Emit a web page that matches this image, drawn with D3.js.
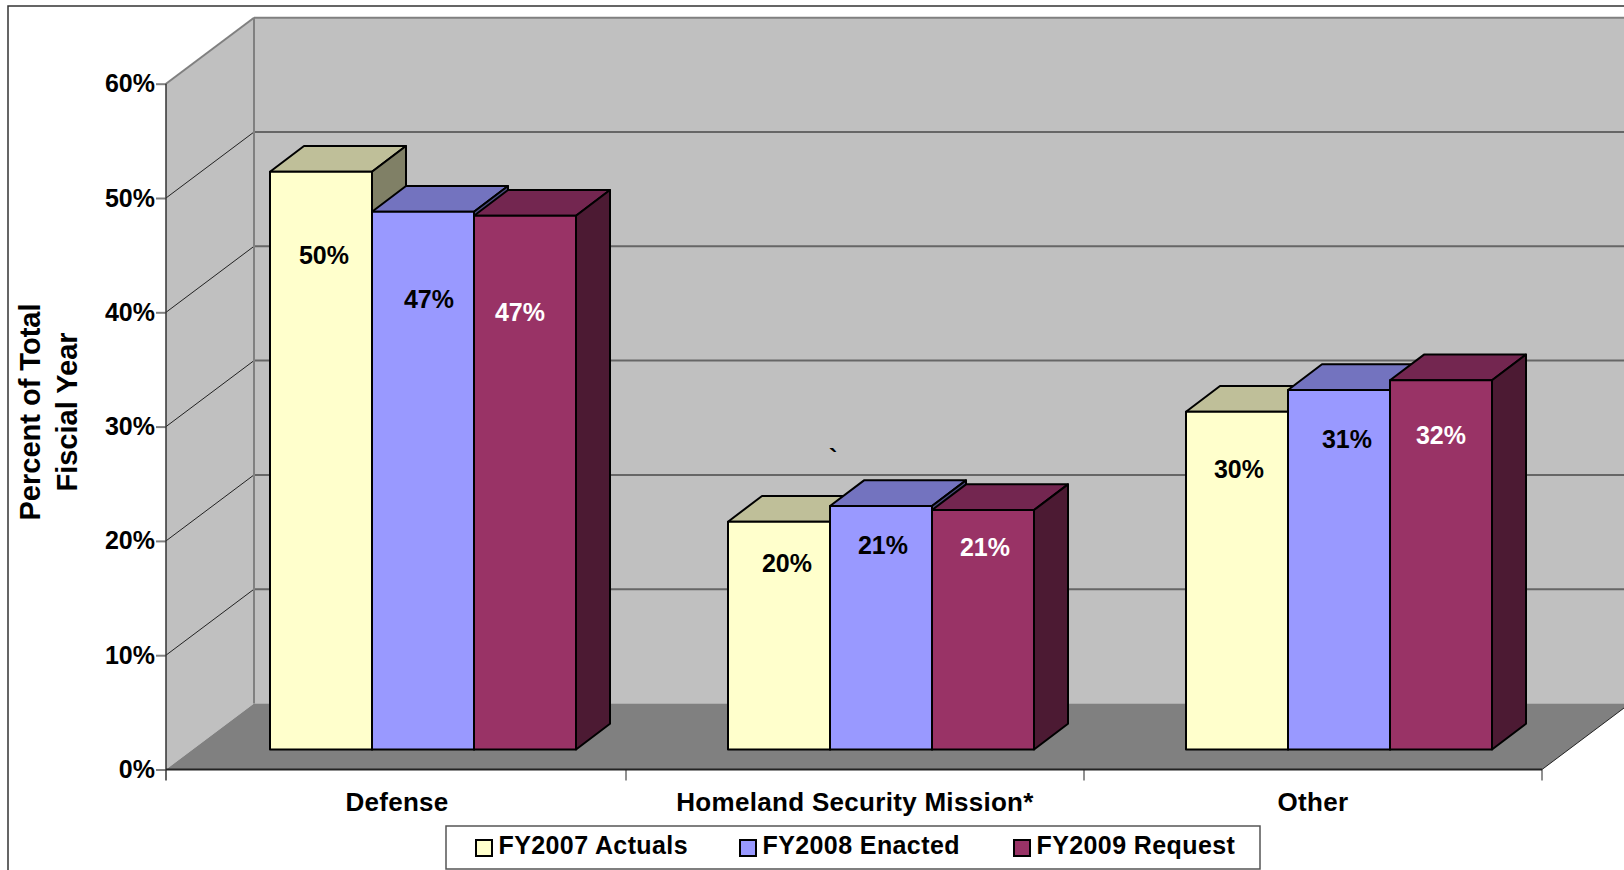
<!DOCTYPE html>
<html>
<head>
<meta charset="utf-8">
<script src="https://cdn.jsdelivr.net/npm/d3@7"></script>
<style>
    body { margin: 0; background: #fff; overflow: hidden; }
    text { font-family: "Liberation Sans", Arial, sans-serif; font-weight: bold; font-size: 25px; fill: #000; }
    #x-axis text { font-size: 26px; letter-spacing: 0.3px; }
    .legend text { letter-spacing: 0.4px; }
    .y-title text { font-size: 29px; }
</style>
</head>
<body>
<div id="chart"></div>
<script>
const categories = ["Defense", "Homeland Security Mission*", "Other"];
const seriesNames = ["FY2007 Actuals", "FY2008 Enacted", "FY2009 Request"];
const fy2007 = [50.55, 19.93, 29.55];
const fy2008 = [47.05, 21.3, 31.45];
const fy2009 = [46.7, 20.95, 32.3];
const fy2007Labels = ["50%", "20%", "30%"];
const fy2008Labels = ["47%", "21%", "31%"];
const fy2009Labels = ["47%", "21%", "32%"];
const yTicks = [0, 10, 20, 30, 40, 50, 60];

const seriesValues = [fy2007, fy2008, fy2009];
const seriesLabels = [fy2007Labels, fy2008Labels, fy2009Labels];

// front, top and side faces of each series
const faceColors = [
    { front: "#ffffcc", top: "#bfbf99", side: "#808066" },
    { front: "#9999ff", top: "#7373bf", side: "#4d4d80" },
    { front: "#993366", top: "#732650", side: "#4c1a33" }
];
const labelColors = ["#000", "#000", "#fff"];

// labels were moved by hand in the original, [dx, dy] from the centre top of the bar
const labelNudge = [
    [[3, 92], [6, 96], [-5, 105]],
    [[8, 50], [2, 48], [2, 46]],
    [[2, 66], [8, 58], [0, 64]]
];

const canvWidth = 1624, canvHeight = 870;
const plotLeft = 166, plotRight = 1542, plotBottom = 769.5, plotTop = 83.7;
const wallDx = 88, wallDy = -66;      // depth of the whole box
const barDx = 34, barDy = -25.7;      // depth of one bar
const barInsetX = 26, barInsetY = -20; // front plane of the bars inside the box
const barWidth = 102;

const svg = d3.select("#chart").append("svg")
    .attr("width", canvWidth)
    .attr("height", canvHeight)
    .style("display", "block");

const xScale = d3.scaleBand().domain(categories).range([plotLeft + 2, plotRight]);
const yScale = d3.scaleLinear().domain([0, 60]).range([plotBottom, plotTop]);
const barScale = d3.scaleBand().domain(d3.range(3)).range([0, barWidth * 3]);

const pts = a => a.map(p => p.join(",")).join(" ");

// outer frame
svg.append("path")
    .attr("d", `M8,${canvHeight} V6 H${canvWidth}`)
    .attr("fill", "none")
    .attr("stroke", "#333")
    .attr("stroke-width", 1.5);

// walls and floor
svg.append("polygon")
    .attr("points", pts([[plotLeft, plotBottom], [plotLeft, plotTop], [plotLeft + wallDx, plotTop + wallDy], [plotLeft + wallDx, plotBottom + wallDy]]))
    .attr("fill", "#c0c0c0");
svg.append("rect")
    .attr("x", plotLeft + wallDx).attr("y", plotTop + wallDy)
    .attr("width", canvWidth - plotLeft - wallDx).attr("height", plotBottom - plotTop)
    .attr("fill", "#c0c0c0");
svg.append("polygon")
    .attr("points", pts([[plotLeft, plotBottom], [plotLeft + wallDx, plotBottom + wallDy], [plotRight + wallDx, plotBottom + wallDy], [plotRight, plotBottom]]))
    .attr("fill", "#808080");

// gridlines, back wall then the thin ones on the side wall
svg.selectAll(".grid-back")
    .data(yTicks.slice(1))
    .enter()
    .append("line")
    .attr("class", "grid-back")
    .attr("x1", plotLeft + wallDx).attr("x2", canvWidth)
    .attr("y1", d => yScale(d) + wallDy).attr("y2", d => yScale(d) + wallDy)
    .attr("stroke", d => d == 60 ? "#808080" : "#666")
    .attr("stroke-width", 2);
svg.selectAll(".grid-side")
    .data(yTicks.slice(1))
    .enter()
    .append("line")
    .attr("class", "grid-side")
    .attr("x1", plotLeft).attr("x2", plotLeft + wallDx)
    .attr("y1", d => yScale(d)).attr("y2", d => yScale(d) + wallDy)
    .attr("stroke", d => d == 60 ? "#808080" : "#222")
    .attr("stroke-width", d => d == 60 ? 2 : 1);
svg.append("line")
    .attr("x1", plotLeft + wallDx).attr("x2", plotLeft + wallDx)
    .attr("y1", plotTop + wallDy).attr("y2", plotBottom + wallDy)
    .attr("stroke", "#808080")
    .attr("stroke-width", 2);

// right edge of the floor runs off the page
svg.append("line")
    .attr("x1", plotRight).attr("y1", plotBottom)
    .attr("x2", plotRight + wallDx).attr("y2", plotBottom + wallDy)
    .attr("stroke", "#222")
    .attr("stroke-width", 1);

// y axis
const yAxis = d3.axisLeft(yScale)
    .tickValues(yTicks)
    .tickFormat(d => d + "%")
    .tickSize(10)
    .tickPadding(1);
const yAxisG = svg.append("g")
    .attr("id", "y-axis")
    .attr("transform", `translate(${plotLeft},0)`)
    .call(yAxis);
yAxisG.select(".domain").remove();
yAxisG.selectAll(".tick line").attr("stroke", "#808080").attr("stroke-width", 2);
yAxisG.attr("font-size", null).attr("font-family", null);
svg.append("line")
    .attr("x1", plotLeft).attr("x2", plotLeft)
    .attr("y1", plotTop).attr("y2", plotBottom + 11)
    .attr("stroke", "#333")
    .attr("stroke-width", 1.5);

// x axis: labels from the band scale, ticks on the band edges
const xAxis = d3.axisBottom(xScale).tickSize(0).tickPadding(23);
const xAxisG = svg.append("g")
    .attr("id", "x-axis")
    .attr("transform", `translate(0,${plotBottom})`)
    .call(xAxis);
xAxisG.select(".domain").remove();
xAxisG.attr("font-size", null).attr("font-family", null);

svg.append("line")
    .attr("x1", plotLeft).attr("x2", plotRight)
    .attr("y1", plotBottom).attr("y2", plotBottom)
    .attr("stroke", "#222")
    .attr("stroke-width", 2);
svg.selectAll(".x-tick")
    .data(categories.slice(1).map(c => xScale(c)).concat([plotRight]))
    .enter()
    .append("line")
    .attr("class", "x-tick")
    .attr("x1", d => d).attr("x2", d => d)
    .attr("y1", plotBottom).attr("y2", plotBottom + 11)
    .attr("stroke", "#222")
    .attr("stroke-width", 1);

// bars
const barBase = yScale(0) + barInsetY;
const barHeight = v => yScale(0) - yScale(v);

categories.forEach((cat, c) => {
    const groupX = xScale(cat) + (xScale.bandwidth() - barWidth * 3) / 2 + barInsetX;
    seriesValues.forEach((values, s) => {
        const x0 = groupX + barScale(s), x1 = x0 + barScale.bandwidth();
        const yTop = barBase - barHeight(values[c]);
        const g = svg.append("g")
            .attr("class", "bar")
            .attr("stroke", "#000")
            .attr("stroke-width", 2)
            .attr("stroke-linejoin", "round");
        g.append("polygon")
            .attr("points", pts([[x0, yTop], [x0 + barDx, yTop + barDy], [x1 + barDx, yTop + barDy], [x1, yTop]]))
            .attr("fill", faceColors[s].top);
        g.append("polygon")
            .attr("points", pts([[x1, yTop], [x1 + barDx, yTop + barDy], [x1 + barDx, barBase + barDy], [x1, barBase]]))
            .attr("fill", faceColors[s].side);
        g.append("rect")
            .attr("x", x0).attr("y", yTop)
            .attr("width", x1 - x0).attr("height", barBase - yTop)
            .attr("fill", faceColors[s].front);
    });
});

// data labels go on last, they sit over neighbouring bars
categories.forEach((cat, c) => {
    const groupX = xScale(cat) + (xScale.bandwidth() - barWidth * 3) / 2 + barInsetX;
    seriesValues.forEach((values, s) => {
        const yTop = barBase - barHeight(values[c]);
        svg.append("text")
            .attr("x", groupX + barScale(s) + barScale.bandwidth() / 2 + labelNudge[c][s][0])
            .attr("y", yTop + labelNudge[c][s][1])
            .attr("text-anchor", "middle")
            .style("fill", labelColors[s])
            .text(seriesLabels[s][c]);
    });
});

// stray mark that is in the original
svg.append("text").attr("x", 829).attr("y", 467).text("`");

// y title
const yTitle = svg.append("g").attr("class", "y-title").attr("transform", "translate(40,412) rotate(-90)");
yTitle.append("text").attr("text-anchor", "middle").text("Percent of Total");
yTitle.append("text").attr("text-anchor", "middle").attr("y", 36.5).text("Fiscial Year");

// legend
svg.append("rect")
    .attr("x", 446).attr("y", 826)
    .attr("width", 814).attr("height", 43)
    .attr("fill", "#fff")
    .attr("stroke", "#555")
    .attr("stroke-width", 1.5);
const legendX = d3.scaleOrdinal().domain(seriesNames).range([476, 740, 1014]);
const legend = svg.selectAll(".legend")
    .data(seriesNames)
    .enter()
    .append("g")
    .attr("class", "legend")
    .attr("transform", d => `translate(${legendX(d)},840)`);
legend.append("rect")
    .attr("width", 16).attr("height", 16)
    .attr("fill", (d, i) => faceColors[i].front)
    .attr("stroke", "#000")
    .attr("stroke-width", 2);
legend.append("text")
    .attr("x", 22.5).attr("y", 14)
    .text(d => d);
</script>
</body>
</html>
